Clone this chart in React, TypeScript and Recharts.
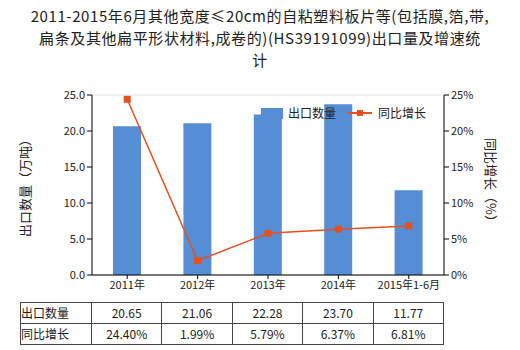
import React from 'react';
import { ComposedChart, Bar, Line, XAxis, YAxis, CartesianGrid } from 'recharts';

const categories = ['2011年', '2012年', '2013年', '2014年', '2015年1-6月'];
const exportQty = [20.65, 21.06, 22.28, 23.7, 11.77];
const growth = [24.4, 1.99, 5.79, 6.37, 6.81];
const qtyLabels = ['20.65', '21.06', '22.28', '23.70', '11.77'];
const growthLabels = ['24.40%', '1.99%', '5.79%', '6.37%', '6.81%'];
const leftTicks = [0, 5, 10, 15, 20, 25];
const rightTicks = [0, 5, 10, 15, 20, 25];

const data = categories.map((c, i) => ({ name: c, qty: exportQty[i], growth: growth[i] }));

const BAR = '#558ED5';
const LINE = '#E4511E';
const FONT = '"Noto Sans CJK SC", "Noto Sans", sans-serif';

const Square = (props: any) => {
  const { cx, cy } = props;
  if (cx == null || cy == null) return null;
  return <rect x={cx - 3.5} y={cy - 3.5} width={7} height={7} fill={LINE} />;
};

const cell: React.CSSProperties = {
  border: '1px solid #444',
  padding: 0,
  height: 20,
  lineHeight: '20px',
  textAlign: 'center',
  fontSize: 12,
  fontFamily: FONT,
  color: '#222',
};

export default function App() {
  return (
    <div style={{ position: 'absolute', left: 0, top: 0, width: 520, height: 350, background: '#fff' }}>
      <div
        style={{
          position: 'absolute',
          left: 0,
          top: 5,
          width: 520,
          textAlign: 'center',
          fontSize: 15,
          letterSpacing: 0.6,
          lineHeight: '22px',
          fontFamily: FONT,
          color: '#222',
        }}
      >
        2011-2015年6月其他宽度≤20cm的自粘塑料板片等(包括膜,箔,带,
        <br />
        扁条及其他扁平形状材料,成卷的)(HS39191099)出口量及增速统
        <br />
        计
      </div>
      <div style={{ position: 'absolute', left: 0, top: 0 }}>
        <ComposedChart
          width={520}
          height={350}
          data={data}
          margin={{ top: 95, right: 36, bottom: 45, left: 52 }}
        >
          <CartesianGrid vertical={false} stroke="#e4e4e4" />
          <XAxis
            dataKey="name"
            axisLine={{ stroke: '#000' }}
            tickLine={{ stroke: '#000' }}
            tick={{ fontSize: 11, fill: '#222', fontFamily: FONT }}
            tickSize={4}
            height={30}
            interval={0}
          />
          <YAxis
            yAxisId="left"
            domain={[0, 25]}
            ticks={leftTicks}
            tickFormatter={(v: number) => v.toFixed(1)}
            axisLine={{ stroke: '#000' }}
            tickLine={{ stroke: '#000' }}
            tick={{ fontSize: 11, fill: '#222', fontFamily: FONT }}
            tickSize={5}
            width={40}
          />
          <YAxis
            yAxisId="right"
            orientation="right"
            domain={[0, 25]}
            ticks={rightTicks}
            tickFormatter={(v: number) => `${v}%`}
            axisLine={{ stroke: '#000' }}
            tickLine={{ stroke: '#000' }}
            tick={{ fontSize: 11, fill: '#222', fontFamily: FONT }}
            tickSize={5}
            width={40}
          />
          <Bar yAxisId="left" dataKey="qty" fill={BAR} barSize={28} isAnimationActive={false} />
          <Line
            yAxisId="right"
            dataKey="growth"
            stroke={LINE}
            strokeWidth={1.5}
            dot={<Square />}
            activeDot={false}
            isAnimationActive={false}
          />
        </ComposedChart>
      </div>
      <svg
        width={520}
        height={350}
        style={{ position: 'absolute', left: 0, top: 0, pointerEvents: 'none' }}
      >
        <text
          x={0}
          y={0}
          transform="translate(30,185) rotate(-90)"
          textAnchor="middle"
          style={{ fontSize: 13, fill: '#222', fontFamily: FONT }}
        >
          出口数量（万吨）
        </text>
        <text
          x={0}
          y={0}
          transform="translate(486,183) rotate(90)"
          textAnchor="middle"
          style={{ fontSize: 13, fill: '#222', fontFamily: FONT }}
        >
          同比增长（%）
        </text>
      </svg>
      <div
        style={{
          position: 'absolute',
          left: 261,
          top: 106,
          display: 'flex',
          alignItems: 'center',
          fontSize: 12,
          fontFamily: FONT,
          color: '#222',
          lineHeight: '14px',
        }}
      >
        <span style={{ display: 'inline-block', width: 22, height: 11, background: BAR, marginRight: 5 }} />
        <span style={{ marginRight: 12 }}>出口数量</span>
        <svg width={24} height={10} style={{ marginRight: 6 }}>
          <line x1={0} y1={5} x2={24} y2={5} stroke={LINE} strokeWidth={2} />
          <rect x={9} y={2} width={6} height={6} fill={LINE} />
        </svg>
        <span>同比增长</span>
      </div>
      <table
        style={{
          position: 'absolute',
          left: 20,
          top: 302,
          width: 424,
          borderCollapse: 'collapse',
          tableLayout: 'fixed',
        }}
      >
        <colgroup>
          <col style={{ width: 71 }} />
          <col />
          <col />
          <col />
          <col />
          <col />
        </colgroup>
        <tbody>
          <tr>
            <td style={{ ...cell, textAlign: 'left' }}>出口数量</td>
            {qtyLabels.map((v, i) => (
              <td key={i} style={cell}>{v}</td>
            ))}
          </tr>
          <tr>
            <td style={{ ...cell, textAlign: 'left' }}>同比增长</td>
            {growthLabels.map((v, i) => (
              <td key={i} style={cell}>{v}</td>
            ))}
          </tr>
        </tbody>
      </table>
    </div>
  );
}
